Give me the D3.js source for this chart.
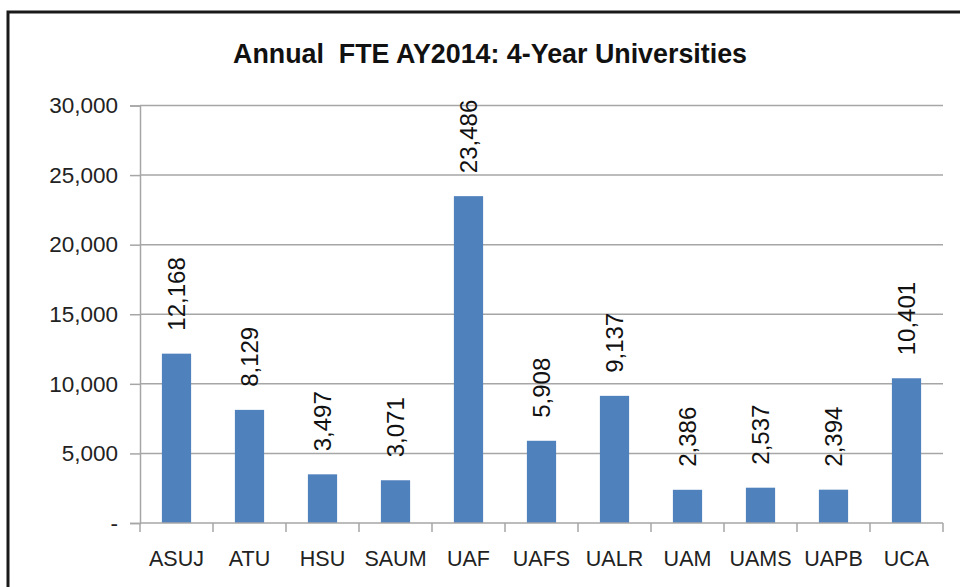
<!DOCTYPE html>
<html>
<head>
<meta charset="utf-8">
<script src="https://cdn.jsdelivr.net/npm/d3@7"></script>
<style>
  body { margin: 0; background: #fff; }
  svg { display: block; }
</style>
</head>
<body>
<svg id="chart"></svg>
<script>
const schools = ["ASUJ", "ATU", "HSU", "SAUM", "UAF", "UAFS", "UALR", "UAM", "UAMS", "UAPB", "UCA"];
const fte = [12168, 8129, 3497, 3071, 23486, 5908, 9137, 2386, 2537, 2394, 10401];
const yTicks = [0, 5000, 10000, 15000, 20000, 25000, 30000];
const yTickLabels = ["-", "5,000", "10,000", "15,000", "20,000", "25,000", "30,000"];
const title = "Annual  FTE AY2014: 4-Year Universities";

const data = schools.map((s, i) => ({ name: s, value: fte[i] }));

const width = 960;
const height = 587;
const svg = d3.select("#chart").attr("width", width).attr("height", height);

// outer frame (only left and top edges show in the shot)
svg.append("rect")
  .attr("x", 8)
  .attr("y", 12)
  .attr("width", 1000)
  .attr("height", 700)
  .attr("fill", "none")
  .attr("stroke", "#1a1a1a")
  .attr("stroke-width", 3);

const x = d3.scaleBand().domain(schools).range([140, 943]).padding(0);
const y = d3.scaleLinear().domain([0, 30000]).range([523, 105.5]);
const barWidth = x.bandwidth() / 2.5;

svg.append("text")
  .attr("x", 490)
  .attr("y", 63)
  .attr("text-anchor", "middle")
  .style("white-space", "pre")
  .attr("font-family", "'Liberation Sans', Arial, sans-serif")
  .attr("font-weight", "bold")
  .attr("font-size", 27)
  .attr("textLength", 514)
  .attr("lengthAdjust", "spacingAndGlyphs")
  .attr("fill", "#111")
  .text(title);

// gridlines + left ticks
const yAxis = svg.append("g")
  .attr("transform", "translate(140,0)")
  .call(d3.axisLeft(y).tickValues(yTicks).tickSize(10)
    .tickFormat((d, i) => yTickLabels[i]));
yAxis.select(".domain").attr("stroke", "#a6a6a6").attr("stroke-width", 1.5);
yAxis.selectAll(".tick line").attr("stroke", "#a6a6a6").attr("stroke-width", 1.5);
yAxis.selectAll(".tick text")
  .attr("x", -22)
  .attr("font-family", "'Liberation Sans', Arial, sans-serif")
  .attr("font-size", 22.5)
  .attr("fill", "#222");

svg.append("g")
  .selectAll("line")
  .data(yTicks.filter((d) => d > 0))
  .join("line")
  .attr("x1", 140)
  .attr("x2", 943)
  .attr("y1", (d) => y(d))
  .attr("y2", (d) => y(d))
  .attr("stroke", "#a6a6a6")
  .attr("stroke-width", 1.5);

// bars
svg.append("g")
  .selectAll("rect")
  .data(data)
  .join("rect")
  .attr("x", (d) => x(d.name) + x.bandwidth() / 2 - barWidth / 2)
  .attr("y", (d) => y(d.value))
  .attr("width", barWidth)
  .attr("height", (d) => y(0) - y(d.value))
  .attr("fill", "#4f81bd");

// x axis with ticks on category boundaries
svg.append("line")
  .attr("x1", 140)
  .attr("x2", 943)
  .attr("y1", y(0))
  .attr("y2", y(0))
  .attr("stroke", "#a6a6a6")
  .attr("stroke-width", 1.5);

const edges = schools.map((s) => x(s)).concat([x.range()[1]]);
svg.append("g")
  .selectAll("line")
  .data(edges)
  .join("line")
  .attr("x1", (d) => d)
  .attr("x2", (d) => d)
  .attr("y1", y(0))
  .attr("y2", y(0) + 9)
  .attr("stroke", "#a6a6a6")
  .attr("stroke-width", 1.5);

svg.append("g")
  .selectAll("text")
  .data(data)
  .join("text")
  .attr("x", (d) => x(d.name) + x.bandwidth() / 2)
  .attr("y", 566)
  .attr("text-anchor", "middle")
  .attr("font-family", "'Liberation Sans', Arial, sans-serif")
  .attr("font-size", 21.5)
  .attr("fill", "#222")
  .text((d) => d.name);

// value labels, rotated
svg.append("g")
  .selectAll("text")
  .data(data)
  .join("text")
  .attr("transform", (d) =>
    `translate(${x(d.name) + x.bandwidth() / 2},${y(d.value) - 23}) rotate(-90)`)
  .attr("dy", "0.36em")
  .attr("text-anchor", "start")
  .attr("font-family", "'Liberation Sans', Arial, sans-serif")
  .attr("font-size", 24)
  .attr("fill", "#111")
  .text((d) => d3.format(",")(d.value));
</script>
</body>
</html>
